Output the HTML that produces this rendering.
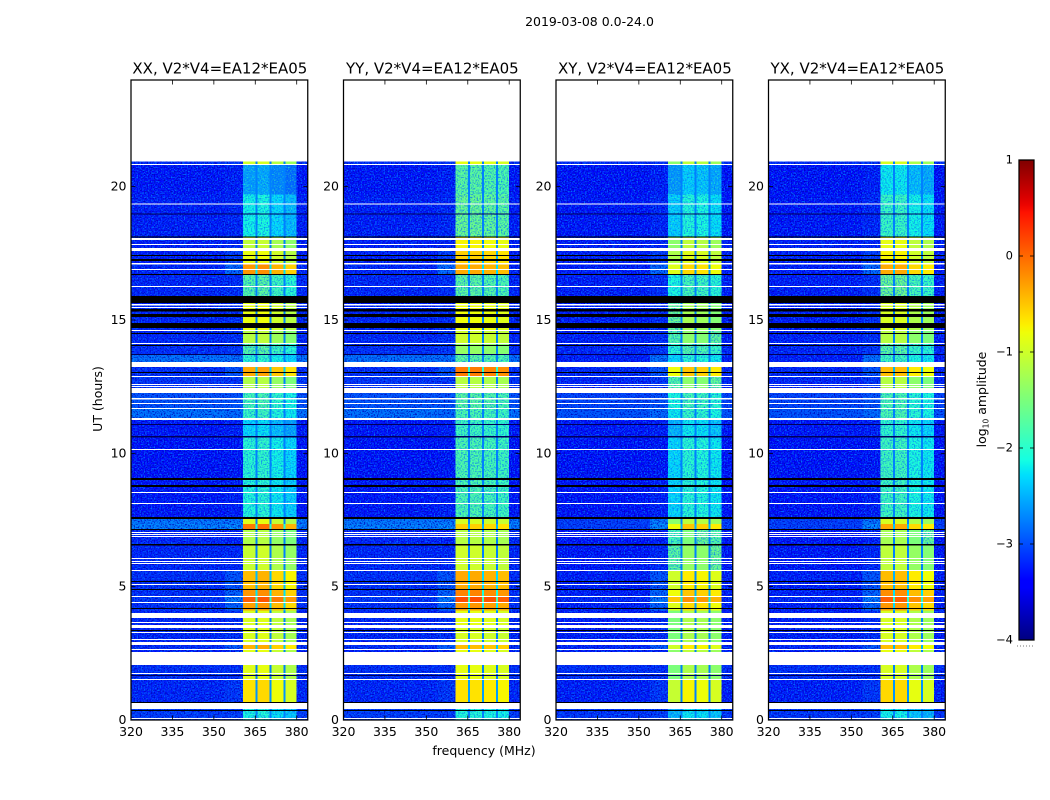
<!DOCTYPE html>
<html>
<head>
<meta charset="utf-8">
<title>2019-03-08 0.0-24.0</title>
<style>
html,body{margin:0;padding:0;background:#fff;width:1050px;height:800px;overflow:hidden}
svg{display:block}
text{font-family:"DejaVu Sans","Liberation Sans",sans-serif;fill:#000}
</style>
</head>
<body>
<svg id="chart" xmlns="http://www.w3.org/2000/svg" width="1050" height="800" viewBox="0 0 1050 800">
  <defs>
    <linearGradient id="jet-gradient" x1="0" y1="1" x2="0" y2="0"></linearGradient>
    <filter id="speckle" x="0" y="0" width="100%" height="100%" color-interpolation-filters="sRGB">
      <feTurbulence type="fractalNoise" baseFrequency="0.7" numOctaves="1" seed="4" result="n"/>
      <feColorMatrix in="n" type="matrix" values="0 0 0 0 0  0 0 0 0 0.42  0 0 0 0 1  3.6 0 0 0 -1.55" result="light"/>
      <feComposite in="light" in2="SourceAlpha" operator="in" result="lightClip"/>
      <feColorMatrix in="n" type="matrix" values="0 0 0 0 0  0 0 0 0 0  0 0 0 0 0.72  0 3.4 0 0 -1.6" result="dark"/>
      <feComposite in="dark" in2="SourceAlpha" operator="in" result="darkClip"/>
      <feMerge><feMergeNode in="SourceGraphic"/><feMergeNode in="lightClip"/><feMergeNode in="darkClip"/></feMerge>
    </filter>
    <filter id="speckle-mid" x="0" y="0" width="100%" height="100%" color-interpolation-filters="sRGB">
      <feTurbulence type="fractalNoise" baseFrequency="0.7" numOctaves="1" seed="9" result="n"/>
      <feColorMatrix in="n" type="matrix" values="0 0 0 0 0.2  0 0 0 0 1  0 0 0 0 0.7  2.4 0 0 0 -1.15" result="light"/>
      <feComposite in="light" in2="SourceAlpha" operator="in" result="lightClip"/>
      <feColorMatrix in="n" type="matrix" values="0 0 0 0 0  0 0 0 0 0.4  0 0 0 0 1  0 2.4 0 0 -1.05" result="dark"/>
      <feComposite in="dark" in2="SourceAlpha" operator="in" result="darkClip"/>
      <feMerge><feMergeNode in="SourceGraphic"/><feMergeNode in="lightClip"/><feMergeNode in="darkClip"/></feMerge>
    </filter>
  </defs>
  <text x="589.5" y="26" font-size="12.5" text-anchor="middle">2019-03-08 0.0-24.0</text>
  <text transform="translate(102,399) rotate(-90)" font-size="12.5" text-anchor="middle">UT (hours)</text>
  <text x="484" y="755" font-size="12.5" text-anchor="middle">frequency (MHz)</text>
  <g id="panels"></g>
  <g id="colorbar"></g>
  <text transform="translate(986,399.5) rotate(-90)" font-size="12.5" text-anchor="middle">log<tspan font-size="7.5" dy="2.5">10</tspan><tspan dy="-2.5"> amplitude</tspan></text>
</svg>
<script>
// ---------- chart data ----------
const panelTitles = ['XX, V2*V4=EA12*EA05', 'YY, V2*V4=EA12*EA05', 'XY, V2*V4=EA12*EA05', 'YX, V2*V4=EA12*EA05'];
const xTickValues = [320, 335, 350, 365, 380];
const yTickValues = [0, 5, 10, 15, 20];
const colorbarTicks = [1, 0, -1, -2, -3, -4];
const colorbarLabels = ['1', '0', '\u22121', '\u22122', '\u22123', '\u22124'];

// time bands (hours): start and end
const bandStart = [0, 0.5, 1.5, 2.06, 2.66, 2.81, 3.45, 4.1, 4.4, 4.65, 4.9, 5.6, 6.55, 7.16, 7.35, 7.6, 9, 10.6, 11.3, 11.66, 12.26, 12.9, 13.24, 13.73, 14.1, 14.6, 15.6, 15.9, 16.7, 17.1, 17.6, 18.14, 19.7, 20.85];
const bandEnd = [0.5, 1.5, 2.06, 2.66, 2.81, 3.45, 4.1, 4.4, 4.65, 4.9, 5.6, 6.55, 7.16, 7.35, 7.6, 9, 10.6, 11.3, 11.66, 12.26, 12.9, 13.24, 13.73, 14.1, 14.6, 15.6, 15.9, 16.7, 17.1, 17.6, 18.14, 19.7, 20.85, 20.95];

// log10 amplitude outside the 360-380 MHz block
const bgParallel = [-3.1, -3.25, -3.2, -3.3, -3.2, -3.25, -3.25, -3.2, -3.15, -3.2, -3.2, -3.25, -3.25, -2.65, -2.7, -3.35, -3.4, -3.35, -2.75, -2.95, -3.15, -3.2, -2.75, -3.2, -3.25, -3.25, -3.3, -3.25, -3.25, -3.3, -3.3, -3.3, -3.35, -3.2];
const bgCross = [-3.15, -3.3, -3.2, -3.3, -3.25, -3.3, -3.3, -3.3, -3.25, -3.3, -3.3, -3.35, -3.35, -3.1, -3.1, -3.4, -3.4, -3.35, -2.95, -3.05, -3.25, -3.25, -3.3, -3.25, -3.3, -3.3, -3.3, -3.3, -3.3, -3.3, -3.3, -3.35, -3.4, -3.2];

// shoulder below the block, 354-360.5 MHz
const shoulderLevel = [-3.1, -3.15, -3.2, -3.25, -2.9, -3.2, -3.2, -2.85, -2.7, -2.85, -2.95, -3.25, -3.3, -2.6, -2.7, -3.3, -3.35, -3.3, -2.8, -2.95, -3.15, -2.95, -2.75, -3.15, -3.2, -3.2, -3.3, -3.2, -2.8, -3.1, -3.25, -3.25, -3.3, -3.15];

// log10 amplitude inside the 360-380 MHz block, per polarisation
const blockXX = [-2.2, -0.75, -1.0, -1.0, -0.5, -1.05, -1.05, -0.4, -0.05, -0.35, -0.55, -1.15, -1.3, -0.2, -1.0, -2.15, -2.1, -2.4, -2.0, -1.9, -1.3, -0.45, -2.1, -1.8, -1.25, -0.95, -1.0, -1.8, -0.35, -0.95, -1.2, -2.25, -2.7, -1.1];
const blockYY = [-2.1, -0.7, -0.9, -0.9, -0.5, -1.0, -0.9, -0.3, 0.1, -0.2, -0.4, -1.05, -1.2, -0.6, -1.0, -1.8, -1.8, -1.9, -1.8, -1.7, -1.2, -0.15, -1.7, -1.4, -1.05, -0.85, -0.9, -1.7, -0.4, -0.6, -0.8, -1.6, -1.7, -0.9];
const blockXY = [-2.3, -0.85, -1.3, -1.2, -0.8, -1.3, -1.3, -0.7, -0.3, -0.6, -0.8, -1.45, -1.6, -0.6, -1.2, -2.1, -2.1, -2.3, -2.0, -1.9, -1.5, -0.6, -2.1, -1.8, -1.5, -1.35, -1.4, -1.9, -0.7, -1.0, -1.2, -2.15, -2.45, -1.2];
const blockYX = [-2.3, -0.75, -1.1, -1.0, -0.6, -1.1, -1.1, -0.4, -0.1, -0.35, -0.6, -1.25, -1.4, -0.5, -1.1, -2.0, -2.0, -2.1, -1.9, -1.9, -1.3, -0.6, -2.0, -1.8, -1.3, -1.1, -1.1, -1.7, -0.5, -0.9, -1.0, -2.05, -2.35, -1.1];
const blockLevels = [blockXX, blockYY, blockXY, blockYX];

// relative strength of the four sub-bands, per polarisation
const subbandXX = [0.1, 0.15, -0.05, -0.2];
const subbandYY = [0.05, 0.05, 0, -0.05];
const subbandXY = [-0.2, 0.1, 0.05, -0.1];
const subbandYX = [0.15, 0.15, -0.1, -0.2];
const subbandOffsets = [subbandXX, subbandYY, subbandXY, subbandYX];

// frequency channels (MHz): edges and type
const channelStart = [320, 354, 360.5, 365.1, 365.8, 370.2, 370.9, 375.3, 376, 380];
const channelEnd = [354, 360.5, 365.1, 365.8, 370.2, 370.9, 375.3, 376, 380, 384];
const channelType = ['bg', 'shoulder', 'sub0', 'gap', 'sub1', 'gap', 'sub2', 'gap', 'sub3', 'bg'];
const gapFloor = [-2.75];
const gapDepth = [-1.9];

// flagged rows, [start hour, end hour]
const whiteRows = [[0.04,0.075],[0.41,0.64],[1.5,1.54],[1.725,1.76],[2.06,2.55],[2.625,2.66],[2.81,2.925],[3.0,3.04],[3.26,3.3],[3.45,3.56],[3.64,3.675],[3.825,4.01],[4.39,4.425],[4.61,4.65],[5.06,5.1],[5.59,5.625],[5.85,5.89],[5.925,5.96],[6.04,6.075],[6.86,6.9],[6.94,6.975],[7.01,7.05],[8.1,8.14],[8.51,8.55],[10.125,10.16],[11.25,11.325],[11.66,11.7],[11.85,11.89],[12.02,12.07],[12.26,12.45],[12.49,12.525],[12.56,12.6],[12.86,12.9],[13.24,13.425],[14.1,14.14],[14.59,14.625],[15.45,15.49],[15.54,15.6],[16.24,16.28],[16.875,16.91],[17.08,17.14],[17.59,17.7],[17.81,17.85],[18.0,18.08],[19.33,19.375],[20.81,20.85]];
const blackRows = [[0.34,0.375],[0.64,0.675],[3.34,3.375],[4.16,4.2],[4.875,4.91],[5.175,5.21],[6.54,6.6],[7.125,7.16],[7.54,7.61],[8.74,8.82],[9.0,9.075],[13.01,13.05],[14.025,14.06],[14.475,14.51],[14.7,14.89],[15.11,15.225],[15.32,15.41],[15.64,15.9],[16.69,16.725],[17.21,17.29],[17.4,17.43],[18.09,18.14]];
const darkRows = [[1.65,1.69],[10.6,10.65],[11.06,11.1],[13.69,13.725],[18.975,19.0]];

// ---------- axes ----------
const svgNS = 'http://www.w3.org/2000/svg';
const panelLeft = [131, 343.5, 556, 768.5];
const panelWidth = 176.75;
const plotTop = 80, plotBottom = 720;
const xDomain = [320, 384], yDomain = [0, 24], cDomain = [-4, 1];
const cbarLeft = 1019, cbarWidth = 15, cbarTop = 160, cbarBottom = 640;

function xScale(mhz, p) { return panelLeft[p] + (mhz - xDomain[0]) / (xDomain[1] - xDomain[0]) * panelWidth; }
function yScale(h) { return plotBottom - (h - yDomain[0]) / (yDomain[1] - yDomain[0]) * (plotBottom - plotTop); }
function cbarScale(v) { return cbarBottom - (v - cDomain[0]) / (cDomain[1] - cDomain[0]) * (cbarBottom - cbarTop); }

const jetR = [[0,0],[0.35,0],[0.66,1],[0.89,1],[1,0.5]];
const jetG = [[0,0],[0.125,0],[0.375,1],[0.64,1],[0.91,0],[1,0]];
const jetB = [[0,0.5],[0.11,1],[0.34,1],[0.65,0],[1,0]];
function lerp(stops, t) {
  for (let i = 1; i < stops.length; i++) {
    if (t <= stops[i][0]) {
      const a = stops[i - 1], b = stops[i];
      return a[1] + (b[1] - a[1]) * (t - a[0]) / (b[0] - a[0]);
    }
  }
  return stops[stops.length - 1][1];
}
function jet(level) {
  const t = Math.min(1, Math.max(0, (level - cDomain[0]) / (cDomain[1] - cDomain[0])));
  return 'rgb(' + Math.round(lerp(jetR, t) * 255) + ',' + Math.round(lerp(jetG, t) * 255) + ',' + Math.round(lerp(jetB, t) * 255) + ')';
}
function make(tag, attrs, parent) {
  const el = document.createElementNS(svgNS, tag);
  for (const k in attrs) el.setAttribute(k, attrs[k]);
  parent.appendChild(el);
  return el;
}
function cellLevel(p, b, c) {
  const type = channelType[c];
  const bg = p < 2 ? bgParallel[b] : bgCross[b];
  if (type === 'bg') return bg;
  if (type === 'shoulder') return shoulderLevel[b];
  if (type === 'gap') return Math.max(gapFloor[0], blockLevels[p][b] + gapDepth[0]);
  return blockLevels[p][b] + subbandOffsets[p][Number(type.slice(3))];
}

// ---------- draw panels ----------
const panelsRoot = document.getElementById('panels');
panelTitles.forEach(function (title, p) {
  const g = make('g', {}, panelsRoot);
  
  

  const heatLow = make('g', { filter: 'url(#speckle)', 'shape-rendering': 'crispEdges' }, g);
  
  
  const heatMid = make('g', { filter: 'url(#speckle-mid)', 'shape-rendering': 'crispEdges' }, g);
  
  
  const heatHigh = make('g', { 'shape-rendering': 'crispEdges' }, g);
  
  

  bandStart.forEach(function (start, b) {
    channelStart.forEach(function (ch, c) {
      const x0 = xScale(ch, p), x1 = xScale(channelEnd[c], p);
      const y0 = yScale(bandEnd[b]), y1 = yScale(start);
      const level = cellLevel(p, b, c);
      const type = channelType[c];
      let target = heatHigh;
      if (type === 'bg' || type === 'shoulder') target = heatLow;
      else if (type !== 'gap' && level < -1.5) target = heatMid;
      const cell = make('rect', { x: x0, y: y0, width: x1 - x0, height: y1 - y0, fill: jet(level) }, target);
      
      
    });
  });

  const flags = make('g', { 'shape-rendering': 'crispEdges' }, g);
  
  
  darkRows.forEach(function (row) {
    const y0 = yScale(row[1]), y1 = yScale(row[0]);
    const r = make('rect', { x: panelLeft[p], y: y0, width: panelWidth, height: Math.max(1, y1 - y0), fill: '#00005a' }, flags);
    
    
  });
  blackRows.forEach(function (row) {
    const y0 = yScale(row[1]), y1 = yScale(row[0]);
    const r = make('rect', { x: panelLeft[p], y: y0, width: panelWidth, height: Math.max(1, y1 - y0), fill: '#000' }, flags);
    
    
  });
  whiteRows.forEach(function (row) {
    const y0 = yScale(row[1]), y1 = yScale(row[0]);
    const r = make('rect', { x: panelLeft[p], y: y0, width: panelWidth, height: Math.max(1, y1 - y0), fill: '#fff' }, flags);
    
    
  });

  const frame = make('rect', { x: panelLeft[p], y: plotTop, width: panelWidth, height: plotBottom - plotTop, fill: 'none', stroke: '#000', 'stroke-width': 1.25 }, g);
  
  

  xTickValues.forEach(function (v) {
    const x = xScale(v, p);
    const t1 = make('line', { x1: x, x2: x, y1: plotBottom, y2: plotBottom - 4.5, stroke: '#000', 'stroke-width': 0.8 }, g);
    
    
    const t2 = make('line', { x1: x, x2: x, y1: plotTop, y2: plotTop + 4.5, stroke: '#000', 'stroke-width': 0.8 }, g);
    
    
    const lab = make('text', { x: x, y: 736, 'font-size': 12.5, 'text-anchor': 'middle' }, g);
    lab.textContent = v;
    
    
  });
  yTickValues.forEach(function (v) {
    const y = yScale(v);
    const t1 = make('line', { x1: panelLeft[p], x2: panelLeft[p] + 4.5, y1: y, y2: y, stroke: '#000', 'stroke-width': 0.8 }, g);
    
    
    const t2 = make('line', { x1: panelLeft[p] + panelWidth, x2: panelLeft[p] + panelWidth - 4.5, y1: y, y2: y, stroke: '#000', 'stroke-width': 0.8 }, g);
    
    
    const lab = make('text', { x: panelLeft[p] - 4.5, y: y + 4, 'font-size': 12.5, 'text-anchor': 'end' }, g);
    lab.textContent = v;
    
    
  });
  const head = make('text', { x: panelLeft[p] + panelWidth / 2 + 0.5, y: 73.5, 'font-size': 15, 'text-anchor': 'middle' }, g);
  head.textContent = title;
  
  
});

// ---------- draw colorbar ----------
const grad = document.getElementById('jet-gradient');
for (let i = 0; i <= 64; i++) {
  make('stop', { offset: (i / 64), 'stop-color': jet(cDomain[0] + (cDomain[1] - cDomain[0]) * i / 64) }, grad);
}
const cb = document.getElementById('colorbar');
const cbBar = make('rect', { x: cbarLeft, y: cbarTop, width: cbarWidth, height: cbarBottom - cbarTop, fill: 'url(#jet-gradient)', stroke: '#000', 'stroke-width': 1.25 }, cb);


colorbarTicks.forEach(function (v, i) {
  const y = cbarScale(v);
  const t1 = make('line', { x1: cbarLeft, x2: cbarLeft + 4, y1: y, y2: y, stroke: '#000', 'stroke-width': 0.8 }, cb);
  
  
  const t2 = make('line', { x1: cbarLeft + cbarWidth, x2: cbarLeft + cbarWidth - 4, y1: y, y2: y, stroke: '#000', 'stroke-width': 0.8 }, cb);
  
  
  const lab = make('text', { x: 1013, y: y + 3.5, 'font-size': 11.5, 'text-anchor': 'end' }, cb);
  lab.textContent = colorbarLabels[i];
  
  
});
const dots = make('line', { x1: 1017, x2: 1035, y1: 646, y2: 646, stroke: '#777', 'stroke-width': 1, 'stroke-dasharray': '1 2' }, cb);


</script>
</body>
</html>
